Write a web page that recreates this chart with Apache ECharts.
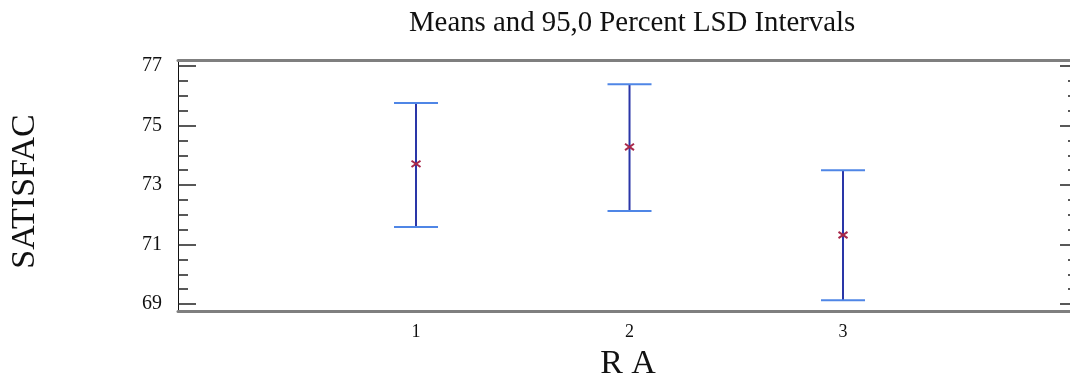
<!DOCTYPE html>
<html>
<head>
<meta charset="utf-8">
<script src="https://cdn.jsdelivr.net/npm/echarts@6/dist/echarts.min.js"></script>
<style>html,body{margin:0;padding:0;background:#fff;}#c{width:1070px;height:382px;}</style>
</head>
<body>
<div id="c"></div>
<script>
var categories = [1, 2, 3];
var means = [73.71, 74.28, 71.32];
var lowers = [71.59, 72.13, 69.13];
var uppers = [75.76, 76.39, 73.50];
var majorTicks = [69, 71, 73, 75, 77];
var minorTicks = [69.5, 70, 70.5, 71.5, 72, 72.5, 73.5, 74, 74.5, 75.5, 76, 76.5];

var FONT = 'Liberation Serif';
var chart = echarts.init(document.getElementById('c'));
var yMin = 68.765, yMax = 77.202;
var xMin = -0.1148, xMax = 4.1006;

function yAx(pos, ticks, len, showLine, showLabel) {
  return {
    type: 'value', position: pos, offset: 0, min: yMin, max: yMax,
    axisLine: { show: showLine, onZero: false, lineStyle: { color: '#111', width: 1 } },
    axisTick: { show: true, inside: true, length: len, customValues: ticks, lineStyle: { color: '#222', width: 1.5 } },
    axisLabel: { show: showLabel, customValues: majorTicks, fontFamily: FONT, fontSize: 20, color: '#111', margin: 16 },
    splitLine: { show: false }
  };
}

var data = categories.map(function (c, i) { return [c, means[i], lowers[i], uppers[i]]; });

chart.setOption({
  animation: false,
  backgroundColor: '#fff',
  title: {
    text: 'Means and 95,0 Percent LSD Intervals',
    left: 404, top: 4,
    textStyle: { fontFamily: FONT, fontSize: 28.8, fontWeight: 'normal', color: '#111' }
  },
  grid: { left: 178, top: 60, width: 900, height: 251, containLabel: false, outerBoundsMode: 'none' },
  xAxis: [{
    type: 'value', min: xMin, max: xMax, position: 'bottom', offset: 0,
    name: 'R A', nameLocation: 'middle', nameGap: 36,
    nameTextStyle: { fontFamily: FONT, fontSize: 34, color: '#111' },
    axisLine: { show: true, onZero: false, lineStyle: { color: '#7f7f7f', width: 3 } },
    axisTick: { show: false },
    axisLabel: { customValues: categories, fontFamily: FONT, fontSize: 18, color: '#111', margin: 12 },
    splitLine: { show: false }
  }, {
    type: 'value', min: xMin, max: xMax, position: 'top', offset: 0,
    axisLine: { show: true, onZero: false, lineStyle: { color: '#7f7f7f', width: 3 } },
    axisTick: { show: false }, axisLabel: { show: false }, splitLine: { show: false }
  }],
  yAxis: [
    Object.assign(yAx('left', majorTicks, 18, true, true), {
      name: 'SATISFAC', nameLocation: 'middle', nameGap: 136, nameRotate: 90,
      nameTextStyle: { fontFamily: FONT, fontSize: 34, color: '#111', padding: [0, 12, 0, 0] }
    }),
    yAx('left', minorTicks, 10, false, false),
    yAx('right', majorTicks, 18, true, false),
    yAx('right', minorTicks, 10, false, false)
  ],
  series: [{
    type: 'custom',
    xAxisIndex: 0, yAxisIndex: 0,
    data: data,
    renderItem: function (params, api) {
      var x = api.value(0);
      var pm = api.coord([x, api.value(1)]);
      var pl = api.coord([x, api.value(2)]);
      var pu = api.coord([x, api.value(3)]);
      var hw = 22, m = 4.5;
      return {
        type: 'group',
        children: [
          { type: 'line', shape: { x1: pl[0], y1: pl[1], x2: pu[0], y2: pu[1] }, style: { stroke: '#2a36a8', lineWidth: 2 } },
          { type: 'line', shape: { x1: pu[0] - hw, y1: pu[1], x2: pu[0] + hw, y2: pu[1] }, style: { stroke: '#4f86e6', lineWidth: 2 } },
          { type: 'line', shape: { x1: pl[0] - hw, y1: pl[1], x2: pl[0] + hw, y2: pl[1] }, style: { stroke: '#4f86e6', lineWidth: 2 } },
          { type: 'line', shape: { x1: pm[0] - m, y1: pm[1] - m * 0.7, x2: pm[0] + m, y2: pm[1] + m * 0.7 }, style: { stroke: '#a8284a', lineWidth: 2 } },
          { type: 'line', shape: { x1: pm[0] - m, y1: pm[1] + m * 0.7, x2: pm[0] + m, y2: pm[1] - m * 0.7 }, style: { stroke: '#a8284a', lineWidth: 2 } }
        ]
      };
    }
  }]
});
</script>
</body>
</html>
